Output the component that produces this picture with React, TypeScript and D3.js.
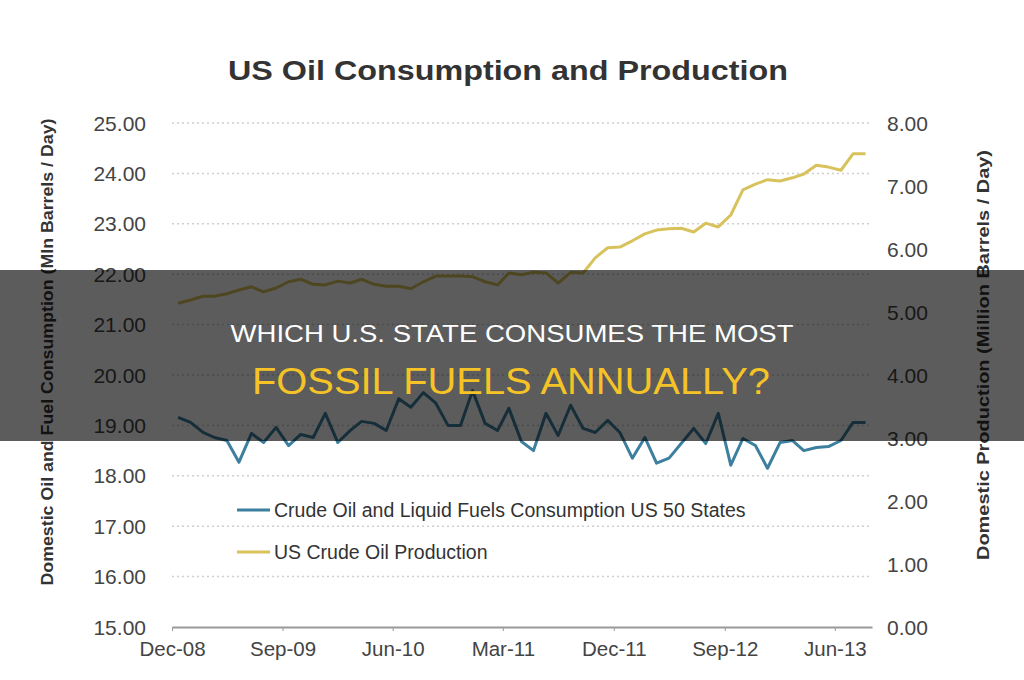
import React, { useEffect, useRef } from 'react';
import * as d3 from 'd3';

// monthly values starting Dec-08
const consumption = [
  19.16, 19.06, 18.86, 18.76, 18.7, 18.27, 18.84, 18.66, 18.96, 18.6,
  18.82, 18.76, 19.24, 18.66, 18.9, 19.08, 19.04, 18.9, 19.53, 19.36,
  19.65, 19.44, 19.0, 19.0, 19.69, 19.04, 18.9, 19.34, 18.68, 18.5,
  19.24, 18.8, 19.4, 18.94, 18.86, 19.1, 18.86, 18.35, 18.76, 18.25,
  18.35, 18.64, 18.94, 18.64, 19.24, 18.21, 18.74, 18.6, 18.15, 18.66,
  18.7, 18.5, 18.56, 18.58, 18.7, 19.06, 19.06,
];
const production = [
  5.14, 5.19, 5.25, 5.25, 5.29, 5.35, 5.4, 5.32, 5.38, 5.48,
  5.52, 5.44, 5.43, 5.49, 5.46, 5.52, 5.44, 5.41, 5.41, 5.37,
  5.48, 5.57, 5.57, 5.57, 5.56, 5.48, 5.43, 5.62, 5.59, 5.63,
  5.62, 5.46, 5.63, 5.62, 5.86, 6.02, 6.03, 6.13, 6.24, 6.3,
  6.32, 6.33, 6.27, 6.41, 6.35, 6.54, 6.94, 7.03, 7.1, 7.08,
  7.13, 7.19, 7.33, 7.3, 7.25, 7.51, 7.51,
];
const xTickLabels = ['Dec-08', 'Sep-09', 'Jun-10', 'Mar-11', 'Dec-11', 'Sep-12', 'Jun-13'];
const leftTicks = [15, 16, 17, 18, 19, 20, 21, 22, 23, 24, 25];
const rightTicks = [0, 1, 2, 3, 4, 5, 6, 7, 8];
const seriesNames = ['Crude Oil and Liquid Fuels Consumption US 50 States', 'US Crude Oil Production'];
const seriesColors = ['#3d7f9e', '#d8c25c'];

const parseMonth = d3.timeParse('%b-%y');

const App = () => {
  const ref = useRef(null);

  useEffect(() => {
    d3.select(ref.current).select('svg').remove();

    const width = 1024;
    const height = 680;
    const left = 172;
    const right = 872;
    const top = 123;
    const bottom = 627;
    const font = "'Liberation Sans', Arial, sans-serif";

    const svg = d3.select(ref.current)
      .append('svg')
      .attr('width', width)
      .attr('height', height)
      .style('display', 'block')
      .style('position', 'absolute')
      .style('left', 0)
      .style('top', 0)
      .style('background', '#fff');

    const start = parseMonth('Dec-08');
    const end = d3.timeMonth.offset(start, 57);
    const x = d3.scaleTime().domain([start, end]).range([left, right]);
    const yL = d3.scaleLinear().domain([15, 25]).range([bottom, top]);
    const yR = d3.scaleLinear().domain([0, 8]).range([bottom, top]);
    const pointDate = (i) => d3.timeDay.offset(d3.timeMonth.offset(start, i), 15);

    // title
    svg.append('text')
      .attr('x', 508)
      .attr('y', 80)
      .attr('text-anchor', 'middle')
      .attr('textLength', 560)
      .attr('lengthAdjust', 'spacingAndGlyphs')
      .style('font-family', font)
      .style('font-size', '27px')
      .style('font-weight', 'bold')
      .style('fill', '#333')
      .text('US Oil Consumption and Production');

    // gridlines
    svg.append('g')
      .selectAll('line')
      .data(leftTicks.slice(1))
      .enter()
      .append('line')
      .attr('x1', left)
      .attr('x2', right - 2)
      .attr('y1', d => yL(d))
      .attr('y2', d => yL(d))
      .style('stroke', '#cfcfcf')
      .style('stroke-width', 1.5)
      .style('stroke-dasharray', '2,3');

    // x axis
    const xAxis = d3.axisBottom(x)
      .tickValues(xTickLabels.map(parseMonth))
      .tickFormat(d3.timeFormat('%b-%y'))
      .tickSize(4)
      .tickSizeOuter(0);
    const gx = svg.append('g').attr('transform', `translate(0,${bottom})`).call(xAxis);
    gx.select('.domain').style('stroke', '#999').style('stroke-width', 2);
    gx.selectAll('.tick line').style('stroke', '#999');
    gx.selectAll('.tick text')
      .attr('y', 14)
      .style('font-family', font)
      .style('font-size', '20.5px')
      .style('fill', '#444');

    // left axis labels
    svg.append('g')
      .selectAll('text')
      .data(leftTicks)
      .enter()
      .append('text')
      .attr('x', 146)
      .attr('y', d => yL(d) + 7.5)
      .attr('text-anchor', 'end')
      .style('font-family', font)
      .style('font-size', '21px')
      .style('fill', '#444')
      .text(d => d.toFixed(2));

    // right axis labels
    svg.append('g')
      .selectAll('text')
      .data(rightTicks)
      .enter()
      .append('text')
      .attr('x', 887)
      .attr('y', d => yR(d) + 7.5)
      .style('font-family', font)
      .style('font-size', '21px')
      .style('fill', '#444')
      .text(d => d.toFixed(2));

    // axis titles
    svg.append('text')
      .attr('transform', 'translate(53,352) rotate(-90)')
      .attr('text-anchor', 'middle')
      .attr('textLength', 467)
      .attr('lengthAdjust', 'spacingAndGlyphs')
      .style('font-family', font)
      .style('font-size', '17px')
      .style('font-weight', 'bold')
      .style('fill', '#333')
      .text('Domestic Oil and Fuel Consumption (Mln Barrels / Day)');

    svg.append('text')
      .attr('transform', 'translate(989,355) rotate(-90)')
      .attr('text-anchor', 'middle')
      .attr('textLength', 410)
      .attr('lengthAdjust', 'spacingAndGlyphs')
      .style('font-family', font)
      .style('font-size', '17px')
      .style('font-weight', 'bold')
      .style('fill', '#333')
      .text('Domestic Production (Million Barrels / Day)');

    // lines
    const lineL = d3.line().x((d, i) => x(pointDate(i))).y(d => yL(d));
    const lineR = d3.line().x((d, i) => x(pointDate(i))).y(d => yR(d));
    svg.append('path')
      .attr('d', lineL(consumption))
      .style('fill', 'none')
      .style('stroke', seriesColors[0])
      .style('stroke-width', 3)
      .style('stroke-linejoin', 'round');
    svg.append('path')
      .attr('d', lineR(production))
      .style('fill', 'none')
      .style('stroke', seriesColors[1])
      .style('stroke-width', 3)
      .style('stroke-linejoin', 'round');

    // legend
    seriesNames.forEach((name, i) => {
      const ly = 510 + i * 42;
      svg.append('line')
        .attr('x1', 237)
        .attr('x2', 270)
        .attr('y1', ly)
        .attr('y2', ly)
        .style('stroke', seriesColors[i])
        .style('stroke-width', 3);
      svg.append('text')
        .attr('x', 274)
        .attr('y', ly + 7)
        .style('font-family', font)
        .style('font-size', '19.5px')
        .style('fill', '#333')
        .text(name);
    });

    // banner overlay
    svg.append('rect')
      .attr('x', 0)
      .attr('y', 270)
      .attr('width', width)
      .attr('height', 171)
      .style('fill', 'rgba(0,0,0,0.64)');

    svg.append('text')
      .attr('x', 512)
      .attr('y', 342)
      .attr('text-anchor', 'middle')
      .attr('textLength', 563)
      .attr('lengthAdjust', 'spacingAndGlyphs')
      .style('font-family', font)
      .style('font-size', '24px')
      .style('fill', '#fff')
      .text('WHICH U.S. STATE CONSUMES THE MOST');

    svg.append('text')
      .attr('x', 511)
      .attr('y', 394)
      .attr('text-anchor', 'middle')
      .attr('textLength', 518)
      .attr('lengthAdjust', 'spacingAndGlyphs')
      .style('font-family', font)
      .style('font-size', '36px')
      .style('fill', '#f6c327')
      .text('FOSSIL FUELS ANNUALLY?');
  }, []);

  return <div ref={ref}></div>;
};

export default App;
